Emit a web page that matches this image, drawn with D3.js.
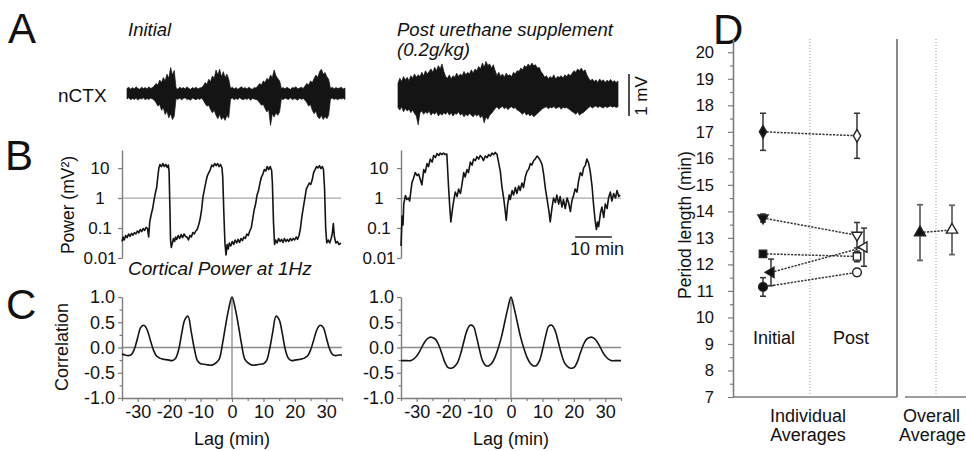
<!DOCTYPE html>
<html>
<head>
<meta charset="utf-8">
<script src="https://cdn.jsdelivr.net/npm/d3@7/dist/d3.min.js"></script>
<style>
  html,body{margin:0;padding:0;background:#fff;}
  svg{display:block;}
</style>
</head>
<body>
<svg id="chart" width="966" height="451"></svg>
<script>
// ================= DATA =================
// Panel A: nCTX envelope (mV), one sample every 0.5 min over 60 min
const eegStepMin = 0.5;
const eegInitialUpper = [0.12,0.15,0.10,0.14,0.11,0.16,0.12,0.10,0.15,0.12,0.14,0.11,0.16,0.12,0.14,
  0.18,0.24,0.20,0.32,0.26,0.38,0.30,0.46,0.36,0.62,0.44,0.55,
  0.13,0.10,0.15,0.12,0.14,0.11,0.16,0.12,0.10,0.14,0.12,0.15,0.11,0.13,0.14,
  0.18,0.26,0.22,0.34,0.28,0.42,0.36,0.56,0.44,0.58,0.40,0.52,0.38,0.46,0.34,
  0.12,0.15,0.11,0.14,0.10,0.13,0.16,0.12,0.14,0.11,0.15,0.12,0.10,0.14,0.13,
  0.18,0.24,0.20,0.30,0.26,0.36,0.32,0.44,0.38,0.56,0.42,0.36,0.30,
  0.12,0.14,0.11,0.15,0.12,0.10,0.14,0.13,0.16,0.11,0.13,0.15,0.12,
  0.18,0.24,0.20,0.30,0.26,0.36,0.44,0.38,0.52,0.58,0.46,0.50,0.40,0.34,
  0.12,0.15,0.11,0.14,0.12,0.13,0.15,0.11,0.13];
const eegInitialLower = [-0.13,-0.10,-0.15,-0.12,-0.14,-0.11,-0.16,-0.12,-0.13,-0.10,-0.15,-0.12,-0.14,-0.11,-0.13,
  -0.16,-0.22,-0.30,-0.26,-0.40,-0.34,-0.50,-0.42,-0.58,-0.48,-0.62,-0.54,
  -0.12,-0.14,-0.11,-0.15,-0.12,-0.10,-0.14,-0.13,-0.16,-0.11,-0.13,-0.15,-0.12,-0.14,-0.11,
  -0.16,-0.24,-0.30,-0.28,-0.38,-0.46,-0.40,-0.52,-0.60,-0.50,-0.62,-0.56,-0.64,-0.52,-0.58,
  -0.13,-0.11,-0.15,-0.12,-0.14,-0.10,-0.13,-0.15,-0.12,-0.14,-0.11,-0.16,-0.12,-0.13,-0.14,
  -0.16,-0.22,-0.28,-0.26,-0.36,-0.44,-0.38,-0.76,-0.48,-0.56,-0.46,-0.52,-0.44,
  -0.12,-0.15,-0.11,-0.13,-0.14,-0.10,-0.15,-0.12,-0.13,-0.16,-0.11,-0.14,-0.12,
  -0.16,-0.22,-0.30,-0.26,-0.40,-0.48,-0.42,-0.56,-0.60,-0.52,-0.62,-0.55,-0.60,-0.52,
  -0.13,-0.11,-0.14,-0.12,-0.15,-0.12,-0.13,-0.11,-0.14];
const eegPostUpper = [0.28,0.40,0.32,0.44,0.36,0.42,0.34,0.46,0.40,0.50,0.42,0.48,
  0.44,0.54,0.46,0.58,0.50,0.56,0.62,0.54,0.66,0.58,0.70,0.62,0.74,
  0.56,0.44,0.40,0.48,0.38,0.46,0.42,0.52,0.44,0.50,0.46,0.56,0.48,0.54,0.50,0.60,0.52,0.62,0.58,
  0.68,0.62,0.76,0.66,0.80,0.70,0.74,0.64,0.72,
  0.58,0.46,0.54,0.44,0.50,0.42,0.52,0.46,0.48,0.44,0.54,0.50,0.58,0.56,
  0.64,0.60,0.70,0.66,0.74,0.68,0.76,0.70,0.72,0.64,0.66,0.56,0.50,
  0.42,0.46,0.38,0.44,0.40,0.48,0.38,0.44,0.42,0.46,0.40,0.48,0.44,0.50,0.46,0.52,
  0.58,0.54,0.62,0.58,0.64,0.56,0.60,0.48,
  0.40,0.34,0.38,0.32,0.36,0.30,0.38,0.33,0.36,0.30,0.35,0.32,0.37,0.31,0.34,0.30,0.33];
const eegPostLower = [-0.30,-0.36,-0.28,-0.40,-0.32,-0.38,-0.34,-0.42,-0.36,-0.44,-0.50,-0.71,
  -0.42,-0.38,-0.46,-0.40,-0.44,-0.38,-0.48,-0.42,-0.46,-0.40,-0.50,-0.44,-0.48,
  -0.42,-0.46,-0.40,-0.48,-0.42,-0.50,-0.44,-0.46,-0.40,-0.48,-0.44,-0.52,-0.46,-0.50,-0.44,-0.48,-0.52,-0.46,-0.50,
  -0.46,-0.54,-0.48,-0.66,-0.52,-0.58,-0.48,-0.44,-0.38,
  -0.32,-0.28,-0.34,-0.30,-0.27,-0.33,-0.29,-0.35,-0.30,-0.28,-0.32,-0.30,-0.36,-0.38,
  -0.42,-0.46,-0.40,-0.48,-0.44,-0.50,-0.46,-0.52,-0.48,-0.44,-0.40,-0.36,-0.32,
  -0.30,-0.28,-0.33,-0.29,-0.31,-0.27,-0.32,-0.30,-0.28,-0.34,-0.29,-0.31,-0.30,-0.33,-0.36,-0.40,
  -0.42,-0.46,-0.40,-0.48,-0.44,-0.42,-0.38,-0.34,
  -0.30,-0.27,-0.31,-0.28,-0.26,-0.30,-0.27,-0.29,-0.31,-0.27,-0.30,-0.28,-0.26,-0.29,-0.27,-0.30,-0.28];

// Panel B: cortical power at 1 Hz, [time (min), log10 power (mV^2)]
const powerInitialLog10 = [[0,-1.45],[0.3,-1.3],[0.6,-1.4],[1,-1.25],[1.4,-1.32],[1.8,-1.2],[2.2,-1.28],[2.6,-1.18],[3,-1.24],[3.4,-1.15],[3.8,-1.2],[4.2,-1.1],[4.6,-1.16],[5,-1.05],[5.4,-1.12],[5.8,-1.02],[6.2,-1.08],[6.6,-0.98],[7,-1.02],[7.3,-1.3],[7.6,-0.8],[8,-0.55],[8.4,-0.35],[8.8,-0.05],[9.2,0.2],[9.5,0.35],[9.8,0.7],[10.1,1.0],[10.4,1.12],[10.8,1.05],[11.2,1.15],[11.6,1.05],[12,1.12],[12.4,1.02],[12.7,1.1],[12.9,0.9],[13.1,-0.2],[13.3,-1.4],[13.5,-1.65],[13.8,-1.5],[14.1,-1.35],[14.4,-1.45],[14.7,-1.3],[15,-1.38],[15.4,-1.25],[15.8,-1.35],[16.2,-1.22],[16.6,-1.32],[17,-1.2],[17.4,-1.28],[17.8,-1.3],[18.2,-1.4],[18.6,-1.25],[19,-1.3],[19.4,-1.15],[19.8,-1.2],[20.2,-1.1],[20.6,-1.05],[21,-0.9],[21.4,-0.7],[21.8,-0.4],[22.2,0.05],[22.6,0.3],[23,0.55],[23.4,0.75],[23.8,0.85],[24.2,0.95],[24.6,1.1],[25,1.05],[25.4,1.15],[25.8,1.08],[26.2,1.15],[26.6,1.05],[27,1.12],[27.4,1.0],[27.6,0.7],[27.9,-0.5],[28.2,-1.5],[28.5,-1.9],[28.8,-1.55],[29.1,-1.7],[29.4,-1.5],[29.8,-1.6],[30.2,-1.45],[30.6,-1.55],[31,-1.4],[31.4,-1.5],[31.8,-1.38],[32.2,-1.48],[32.6,-1.35],[33,-1.42],[33.4,-1.3],[33.8,-1.35],[34.2,-1.2],[34.6,-1.25],[35,-1.1],[35.4,-1.0],[35.8,-0.7],[36.2,-0.4],[36.6,-0.2],[37,0.1],[37.4,0.25],[37.8,0.5],[38.2,0.7],[38.6,0.8],[39,0.95],[39.4,0.9],[39.8,1.05],[40.2,0.95],[40.6,1.05],[41,0.92],[41.2,0.5],[41.5,-0.8],[41.8,-1.55],[42.1,-1.4],[42.5,-1.5],[42.9,-1.35],[43.3,-1.45],[43.7,-1.38],[44.1,-1.48],[44.5,-1.35],[44.9,-1.45],[45.3,-1.38],[45.7,-1.45],[46.1,-1.35],[46.5,-1.42],[46.9,-1.35],[47.3,-1.4],[47.7,-1.3],[48.1,-1.38],[48.5,-1.25],[48.9,-1.0],[49.3,-0.6],[49.7,-0.3],[50.1,0.0],[50.5,0.3],[50.9,0.4],[51.3,0.5],[51.7,0.45],[52.1,0.6],[52.5,0.85],[52.9,0.95],[53.3,1.05],[53.7,1.0],[54.1,1.08],[54.5,0.98],[54.9,1.05],[55.2,0.95],[55.5,0.3],[55.8,-1.0],[56.1,-1.5],[56.5,-1.4],[56.9,-1.5],[57.3,-1.35],[57.6,-1.2],[57.9,-0.85],[58.2,-1.3],[58.6,-1.5],[59,-1.45],[59.4,-1.55],[60,-1.5]];
const powerPostLog10 = [[0,-1.6],[0.3,-0.6],[0.55,-0.9],[0.75,-0.2],[1.2,0.08],[1.6,-0.05],[2.0,0.0],[2.35,-0.1],[3.0,0.52],[3.4,0.65],[3.9,0.85],[4.4,0.75],[4.8,0.8],[5.3,0.6],[5.7,0.44],[6.2,0.95],[6.6,0.85],[7.1,1.15],[7.5,1.05],[8.0,1.3],[8.5,1.2],[8.9,1.42],[9.4,1.35],[9.8,1.48],[10.3,1.42],[10.7,1.5],[11.2,1.45],[11.6,1.5],[12.1,1.45],[12.5,1.47],[13.0,0.3],[13.3,-0.3],[13.6,-0.8],[13.9,-0.5],[14.2,-0.23],[14.5,0.0],[14.8,0.2],[15.3,0.05],[15.7,0.3],[16.2,0.15],[16.6,0.43],[17.1,0.85],[17.5,0.7],[18.0,0.95],[18.4,0.85],[18.9,1.2],[19.4,1.1],[19.8,1.3],[20.3,1.25],[20.7,1.38],[21.2,1.3],[21.6,1.42],[22.1,1.35],[22.5,1.25],[23.0,1.4],[23.5,1.35],[23.9,1.45],[24.4,1.4],[24.8,1.5],[25.3,1.45],[25.7,1.52],[26.2,1.45],[26.6,1.2],[27.1,0.88],[27.5,0.4],[28.0,0.0],[28.4,-0.4],[28.7,-0.75],[29.1,-0.2],[29.5,0.1],[29.8,-0.05],[30.3,0.25],[30.7,0.1],[31.2,0.35],[31.6,0.15],[32.1,0.4],[32.5,0.25],[33.0,0.5],[33.4,0.35],[33.9,0.7],[34.4,0.9],[34.8,0.95],[35.3,1.15],[35.7,1.1],[36.2,1.25],[36.6,1.3],[37.1,1.4],[37.5,1.35],[38.0,1.25],[38.5,1.1],[38.9,0.8],[39.4,0.3],[39.8,0.0],[40.3,-0.4],[40.7,-0.8],[41.2,-0.3],[41.6,0.0],[42.1,-0.15],[42.5,0.1],[43.0,-0.2],[43.4,0.05],[43.9,-0.3],[44.3,-0.05],[44.8,-0.35],[45.3,0.0],[45.7,-0.15],[46.2,-0.45],[46.6,-0.1],[47.1,0.1],[47.5,0.3],[48.0,0.2],[48.4,0.55],[48.9,0.85],[49.4,0.75],[49.8,1.0],[50.3,1.1],[50.7,1.3],[51.2,1.15],[51.6,0.9],[52.1,0.4],[52.5,-0.2],[52.9,-0.7],[53.3,-1.05],[53.6,-0.8],[53.9,-0.95],[54.4,-0.5],[54.8,-0.3],[55.3,-0.65],[55.7,-0.2],[56.2,-0.35],[56.6,0.0],[57.1,0.2],[57.5,-0.1],[58.0,0.15],[58.5,0.0],[58.9,0.25],[59.4,0.05],[59.8,0.1]];
const powerTicks = [10, 1, 0.1, 0.01];
const powerTickLabels = ["10", "1", "0.1", "0.01"];
const scaleBarMinutes = 10;

// Panel C: autocorrelation, lags -35..35 min (step 1)
const corrLags = d3.range(-35, 36, 1);
const corrInitial = [-0.13,-0.15,-0.16,-0.14,-0.02,0.20,0.40,0.44,0.35,0.15,-0.05,-0.17,-0.21,-0.23,-0.24,-0.25,-0.26,-0.22,-0.05,0.28,0.55,0.62,0.32,-0.02,-0.26,-0.32,-0.33,-0.34,-0.35,-0.34,-0.30,-0.22,0.08,0.45,0.78,
  1.00,
  0.78,0.45,0.08,-0.22,-0.30,-0.34,-0.35,-0.34,-0.33,-0.32,-0.26,-0.02,0.32,0.62,0.55,0.28,-0.05,-0.22,-0.26,-0.25,-0.24,-0.23,-0.21,-0.17,-0.05,0.15,0.35,0.44,0.40,0.20,-0.02,-0.14,-0.16,-0.15,-0.15];
const corrPost = [-0.26,-0.26,-0.26,-0.26,-0.23,-0.17,-0.07,0.05,0.15,0.20,0.20,0.16,0.05,-0.12,-0.30,-0.40,-0.41,-0.38,-0.30,-0.12,0.12,0.34,0.44,0.42,0.22,-0.05,-0.27,-0.36,-0.36,-0.30,-0.18,0.00,0.22,0.50,0.78,
  1.00,
  0.78,0.50,0.22,0.00,-0.18,-0.30,-0.36,-0.36,-0.27,-0.05,0.22,0.42,0.44,0.34,0.12,-0.12,-0.30,-0.38,-0.41,-0.40,-0.30,-0.12,0.05,0.16,0.20,0.20,0.15,0.05,-0.07,-0.17,-0.23,-0.26,-0.26,-0.26,-0.26];
const corrTicksY = [-1.0, -0.5, 0.0, 0.5, 1.0];
const corrTicksX = [-30, -20, -10, 0, 10, 20, 30];

// Panel D: period length (min), mean and error
const dConditions = ["Initial", "Post"];
const dSeries = ["diamond", "triangleDown", "square", "triangleLeft", "circle"];
const dInitialMean = [17.0, 13.75, 12.4, 11.7, 11.15];
const dInitialErr  = [0.7, 0.15, 0.06, 0.5, 0.35];
const dPostMean    = [16.85, 13.1, 12.3, 12.65, 11.7];
const dPostErr     = [0.85, 0.48, 0.2, 0.72, 0.13];
const dOverallMean = [13.2, 13.3];
const dOverallErr  = [1.05, 0.93];
const dTicks = d3.range(7, 21, 1);
const dMinorTicks = d3.range(7.5, 20.5, 1);

// ================= DRAWING =================
const FONT = '"Liberation Sans", Arial, Helvetica, sans-serif';
const AXIS = "#7d7d7d";
const REF = "#a9a9a9";
const INK = "#141414";
const svg = d3.select("#chart").style("font-family", FONT);

function txt(x, y, s, size, opts = {}) {
  const t = svg.append("text").attr("x", x).attr("y", y).text(s)
    .attr("font-size", size).attr("fill", opts.fill || "#111")
    .attr("text-anchor", opts.anchor || "start");
  if (opts.italic) t.attr("font-style", "italic");
  if (opts.rotate) t.attr("transform", `rotate(${opts.rotate},${x},${y})`);
  return t;
}
function styleAxis(g, fontSize) {
  g.attr("font-family", FONT).attr("font-size", fontSize);
  g.select(".domain").attr("stroke", AXIS).attr("stroke-width", 1.4);
  g.selectAll(".tick line").attr("stroke", AXIS).attr("stroke-width", 1.2);
  g.selectAll(".tick text").attr("fill", "#111");
}

// Panel letters
txt(8, 43, "A", 42);
txt(5, 170, "B", 42);
txt(6, 319, "C", 42);
txt(713, 44, "D", 42);

// ---------- Panel A ----------
const xA = [d3.scaleLinear().domain([0, 60]).range([127, 345]),
            d3.scaleLinear().domain([0, 60]).range([398, 618])];
const yA = [d3.scaleLinear().domain([-1, 1]).range([135.5, 51.5]),
            d3.scaleLinear().domain([-1, 1]).range([137, 53])];
[[eegInitialUpper, eegInitialLower], [eegPostUpper, eegPostLower]].forEach(([up, lo], k) => {
  const area = d3.area()
    .x((d, i) => xA[k](i * eegStepMin))
    .y0((d, i) => yA[k](lo[i]))
    .y1(d => yA[k](d));
  svg.append("path").attr("d", area(up)).attr("fill", INK)
    .attr("stroke", INK).attr("stroke-width", 0.7).attr("stroke-linejoin", "miter");
});
txt(58, 102, "nCTX", 19);
txt(128, 36, "Initial", 18.5, {italic: true});
txt(397, 35.5, "Post urethane supplement", 18.5, {italic: true});
txt(397, 56, "(0.2g/kg)", 18.5, {italic: true});
// 1 mV scale bar
svg.append("line").attr("x1", 629).attr("x2", 629)
  .attr("y1", yA[1](-0.5)).attr("y2", yA[1](0.5))
  .attr("stroke", "#222").attr("stroke-width", 1.6);
txt(647, 96, "1 mV", 17, {anchor: "middle", rotate: -90});

// ---------- Panel B ----------
const yB = d3.scaleLog().domain([0.01, 40]).range([258, 150]);
const xB = [d3.scaleLinear().domain([0, 60]).range([122, 341]),
            d3.scaleLinear().domain([0, 60]).range([401, 621])];
[powerInitialLog10, powerPostLog10].forEach((series, k) => {
  svg.append("line").attr("x1", xB[k](0)).attr("x2", xB[k](60))
    .attr("y1", yB(1)).attr("y2", yB(1)).attr("stroke", REF).attr("stroke-width", 1.2);
  const g = svg.append("g").attr("transform", `translate(${xB[k](0)},0)`)
    .call(d3.axisLeft(yB).tickValues(powerTicks)
      .tickFormat((d, i) => powerTickLabels[i]).tickSize(4).tickSizeOuter(0));
  styleAxis(g, 17);
  g.selectAll(".tick text").attr("x", -22).attr("text-anchor", "middle");
  const line = d3.line().x(d => xB[k](d[0])).y(d => yB(Math.pow(10, d[1])));
  svg.append("path").attr("d", line(series)).attr("fill", "none")
    .attr("stroke", INK).attr("stroke-width", 1.6).attr("stroke-linejoin", "round");
});
txt(74, 205, "Power (mV²)", 17.5, {anchor: "middle", rotate: -90});
txt(128, 275, "Cortical Power at 1Hz", 19, {italic: true});
// 10 min scale bar
svg.append("line").attr("x1", xB[1](47.5)).attr("x2", xB[1](47.5 + scaleBarMinutes))
  .attr("y1", 237).attr("y2", 237).attr("stroke", "#222").attr("stroke-width", 1.6);
txt(570, 255, "10 min", 18);

// ---------- Panel C ----------
const yC = d3.scaleLinear().domain([-1, 1]).range([398, 297]);
const xC = [d3.scaleLinear().domain([-35, 35]).range([122, 342]),
            d3.scaleLinear().domain([-35, 35]).range([401, 621])];
[corrInitial, corrPost].forEach((series, k) => {
  svg.append("line").attr("x1", xC[k](-35)).attr("x2", xC[k](35))
    .attr("y1", yC(0)).attr("y2", yC(0)).attr("stroke", "#8a8a8a").attr("stroke-width", 1.3);
  svg.append("line").attr("x1", xC[k](0)).attr("x2", xC[k](0))
    .attr("y1", yC(-1)).attr("y2", yC(1)).attr("stroke", "#8a8a8a").attr("stroke-width", 1.3);
  const gy = svg.append("g").attr("transform", `translate(${xC[k](-35)},0)`)
    .call(d3.axisLeft(yC).tickValues(corrTicksY).tickFormat(d => d.toFixed(1))
      .tickSize(4).tickSizeOuter(0).tickPadding(3));
  styleAxis(gy, 18);
  const gym = svg.append("g").attr("transform", `translate(${xC[k](-35)},0)`)
    .call(d3.axisLeft(yC).tickValues([-0.75, -0.25, 0.25, 0.75]).tickFormat("").tickSize(2.5).tickSizeOuter(0));
  styleAxis(gym, 10); gym.select(".domain").remove();
  const gx = svg.append("g").attr("transform", `translate(0,${yC(-1)})`)
    .call(d3.axisBottom(xC[k]).tickValues(corrTicksX).tickFormat(d => String(d))
      .tickSize(4).tickSizeOuter(0).tickPadding(3));
  styleAxis(gx, 18);
  const gxm = svg.append("g").attr("transform", `translate(0,${yC(-1)})`)
    .call(d3.axisBottom(xC[k]).tickValues([-35, -25, -15, -5, 5, 15, 25, 35]).tickFormat("").tickSize(3).tickSizeOuter(0));
  styleAxis(gxm, 10); gxm.select(".domain").remove();
  const line = d3.line().x((d, i) => xC[k](corrLags[i])).y(d => yC(d)).curve(d3.curveCatmullRom.alpha(0.5));
  svg.append("path").attr("d", line(series)).attr("fill", "none")
    .attr("stroke", INK).attr("stroke-width", 1.6);
  txt(xC[k](0), 445, "Lag (min)", 18, {anchor: "middle"});
});
txt(68, 347, "Correlation", 18, {anchor: "middle", rotate: -90});

// ---------- Panel D ----------
const yD = d3.scaleLinear().domain([7, 20.5]).range([397, 39]);
const xIndiv = d3.scaleLinear().domain([0, 1]).range([763, 857]);
const xOverall = d3.scaleLinear().domain([0, 1]).range([920, 952]);
const D_LEFT = 733, D_RIGHT = 897, O_LEFT = 905, O_RIGHT = 980;

svg.append("line").attr("x1", D_LEFT).attr("x2", D_RIGHT).attr("y1", yD(7)).attr("y2", yD(7))
  .attr("stroke", AXIS).attr("stroke-width", 1.6);
svg.append("line").attr("x1", D_RIGHT).attr("x2", D_RIGHT).attr("y1", yD(20.5)).attr("y2", yD(7))
  .attr("stroke", AXIS).attr("stroke-width", 1.8);
svg.append("line").attr("x1", O_LEFT).attr("x2", O_RIGHT).attr("y1", yD(7)).attr("y2", yD(7))
  .attr("stroke", AXIS).attr("stroke-width", 1.6);
[xIndiv(0.5), xOverall(0.5)].forEach(x => {
  svg.append("line").attr("x1", x).attr("x2", x).attr("y1", yD(20.5)).attr("y2", yD(7))
    .attr("stroke", "#9a9a9a").attr("stroke-width", 1).attr("stroke-dasharray", "1,2");
});
const gD = svg.append("g").attr("transform", `translate(${D_LEFT},0)`)
  .call(d3.axisLeft(yD).tickValues(dTicks).tickFormat(d3.format("d"))
    .tickSize(5).tickSizeOuter(0).tickPadding(14));
styleAxis(gD, 16.5);
gD.select(".domain").attr("stroke-width", 1.6);
const gDm = svg.append("g").attr("transform", `translate(${D_LEFT},0)`)
  .call(d3.axisLeft(yD).tickValues(dMinorTicks).tickFormat("").tickSize(3).tickSizeOuter(0));
styleAxis(gDm, 10); gDm.select(".domain").remove();

const symStyle = {
  diamond:      {type: d3.symbolDiamond,  rot: 0,   size: 46, dx: [0, 0]},
  triangleDown: {type: d3.symbolTriangle, rot: 180, size: 46, dx: [0, 0]},
  square:       {type: d3.symbolSquare,   rot: 0,   size: 54, dx: [0, 0]},
  triangleLeft: {type: d3.symbolTriangle, rot: -90, size: 46, dx: [8, 7]},
  circle:       {type: d3.symbolCircle,   rot: 0,   size: 60, dx: [0, 0]},
  triangleUp:   {type: d3.symbolTriangle, rot: 0,   size: 54, dx: [0, 0]}
};
function errBar(x, m, e, color, w) {
  const g = svg.append("g").attr("stroke", color).attr("stroke-width", w);
  g.append("line").attr("x1", x).attr("x2", x).attr("y1", yD(m - e)).attr("y2", yD(m + e));
  g.append("line").attr("x1", x - 3).attr("x2", x + 3).attr("y1", yD(m - e)).attr("y2", yD(m - e));
  g.append("line").attr("x1", x - 3).attr("x2", x + 3).attr("y1", yD(m + e)).attr("y2", yD(m + e));
}
function marker(x, y, st, filled) {
  svg.append("path").attr("d", d3.symbol().type(st.type).size(st.size)())
    .attr("transform", `translate(${x},${y}) rotate(${st.rot})`)
    .attr("fill", filled ? "#111" : "#fff").attr("stroke", "#222").attr("stroke-width", 1.4);
}
function pairGroup(xs, means, errs, st, errColor, errW) {
  const pts = means.map((m, j) => [xs(j) + st.dx[j], yD(m)]);
  svg.append("path").attr("d", d3.line()(pts)).attr("fill", "none")
    .attr("stroke", "#333").attr("stroke-width", 1.5).attr("stroke-dasharray", "2.2,1.3");
  means.forEach((m, j) => errBar(pts[j][0], m, errs[j], errColor, errW));
  means.forEach((m, j) => marker(pts[j][0], pts[j][1], st, j === 0));
}
dSeries.forEach((s, i) => {
  pairGroup(xIndiv, [dInitialMean[i], dPostMean[i]], [dInitialErr[i], dPostErr[i]], symStyle[s], "#333", 1.5);
});
pairGroup(xOverall, dOverallMean, dOverallErr, symStyle.triangleUp, "#666", 1.8);

txt(xIndiv(0) + 11, 344, dConditions[0], 18, {anchor: "middle"});
txt(xIndiv(1) - 6, 344, dConditions[1], 18, {anchor: "middle"});
txt(808, 422, "Individual", 18, {anchor: "middle"});
txt(808, 441, "Averages", 18, {anchor: "middle"});
txt(903, 422, "Overall", 18);
txt(899, 441, "Averages", 18);
txt(691, 225, "Period length (min)", 17.5, {anchor: "middle", rotate: -90});
</script>
</body>
</html>
